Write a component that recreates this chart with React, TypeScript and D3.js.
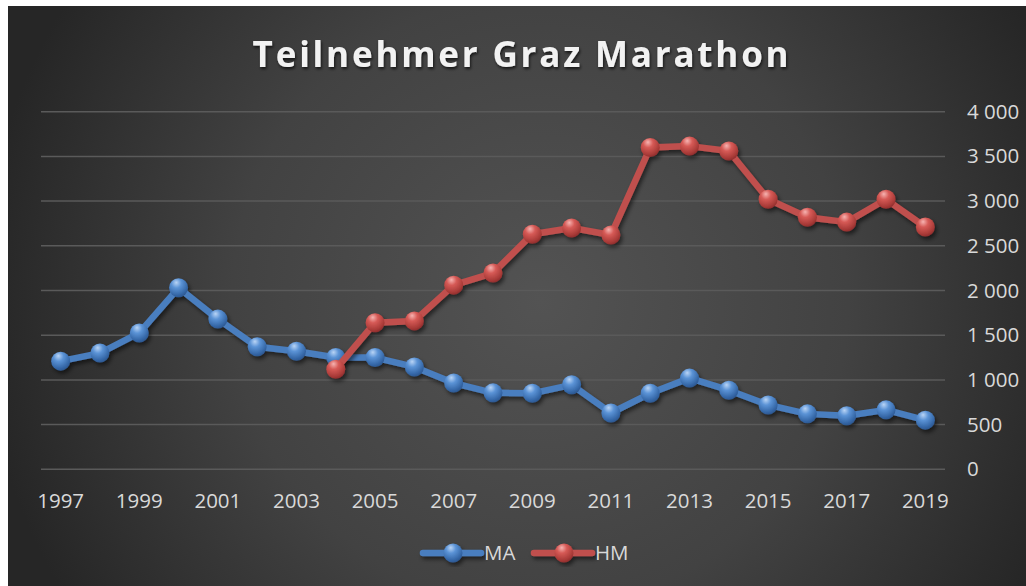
import React from "react";
import * as d3 from "d3";

const years = ["1997","1998","1999","2000","2001","2002","2003","2004","2005","2006","2007","2008","2009","2010","2011","2012","2013","2014","2015","2016","2017","2018","2019"];
const xTickLabels = ["1997","1999","2001","2003","2005","2007","2009","2011","2013","2015","2017","2019"];
const maValues: (number | null)[] = [1210,1300,1525,2030,1680,1370,1320,1250,1250,1145,965,855,850,945,630,850,1020,885,720,620,600,665,550];
const hmValues: (number | null)[] = [null,null,null,null,null,null,null,1120,1640,1660,2060,2195,2630,2700,2620,3600,3615,3560,3020,2820,2765,3020,2710];
const yTicks = [0,500,1000,1500,2000,2500,3000,3500,4000];
const seriesNames = ["MA", "HM"];

const W = 1026, H = 586;
const plotLeft = 41, plotRight = 945;
const yTop = 111.7, yBottom = 469.3;

const fmt = (v: number) => {
  const s = String(v);
  return s.length > 3 ? s.slice(0, s.length - 3) + " " + s.slice(s.length - 3) : s;
};

export default function App() {
  const x = d3.scalePoint<string>().domain(years).range([plotLeft, plotRight]).padding(0.5);
  const y = d3.scaleLinear().domain([0, 4000]).range([yBottom, yTop]);
  const line = d3.line<[string, number | null]>()
    .defined(d => d[1] !== null)
    .x(d => x(d[0]) as number)
    .y(d => y(d[1] as number));

  const series = [
    { name: seriesNames[0], values: maValues, color: "#4a7ebf", grad: "gBlue" },
    { name: seriesNames[1], values: hmValues, color: "#c0504d", grad: "gRed" },
  ];
  const font = "'Open Sans', sans-serif";
  const textColor = "#d9d9d9";
  const R = 9.5;

  const legendItems = [
    { cx: 453, tx: 484, s: series[0] },
    { cx: 564, tx: 595, s: series[1] },
  ];

  return (
    <svg width={W} height={H} style={{ position: "absolute", left: 0, top: 0 }}>
      <defs>
        <radialGradient id="bg" gradientUnits="userSpaceOnUse" cx={540} cy={300} r={560}>
          <stop offset="0" stopColor="#535353" />
          <stop offset="0.55" stopColor="#424242" />
          <stop offset="1" stopColor="#262626" />
        </radialGradient>
        <radialGradient id="gBlue" cx="0.4" cy="0.3" r="0.75" fx="0.38" fy="0.22">
          <stop offset="0" stopColor="#b9d4f5" />
          <stop offset="0.35" stopColor="#5b93d6" />
          <stop offset="0.8" stopColor="#3466a6" />
          <stop offset="1" stopColor="#2a5288" />
        </radialGradient>
        <radialGradient id="gRed" cx="0.4" cy="0.3" r="0.75" fx="0.38" fy="0.22">
          <stop offset="0" stopColor="#f6b3b1" />
          <stop offset="0.35" stopColor="#d65a56" />
          <stop offset="0.8" stopColor="#a83a37" />
          <stop offset="1" stopColor="#86292a" />
        </radialGradient>
        <filter id="shadow" x="-20%" y="-20%" width="140%" height="140%">
          <feDropShadow dx="2" dy="3" stdDeviation="2" floodColor="#000" floodOpacity="0.55" />
        </filter>
        <filter id="tshadow" x="-5%" y="-20%" width="110%" height="150%">
          <feDropShadow dx="1" dy="2" stdDeviation="1.5" floodColor="#000" floodOpacity="0.7" />
        </filter>
      </defs>
      <rect x={0} y={0} width={W} height={H} fill="#ffffff" />
      <rect x={8} y={6} width={W - 8} height={H - 6} fill="url(#bg)" />

      <text x={522} y={67} textAnchor="middle" fontFamily={font} fontWeight={700} fontSize={35}
        letterSpacing={2.8} fill="#f2f2f2" filter="url(#tshadow)">Teilnehmer Graz Marathon</text>

      {yTicks.map(t => (
        <g key={t}>
          <line x1={plotLeft} x2={plotRight} y1={y(t)} y2={y(t)} stroke="#5a5a5a" strokeWidth={1.5} />
          <text x={967} y={y(t) + 7} fontFamily={font} fontSize={20.5} fill={textColor}>{fmt(t)}</text>
        </g>
      ))}

      {xTickLabels.map(l => (
        <text key={l} x={x(l) as number} y={508} textAnchor="middle" fontFamily={font} fontSize={20.5} fill={textColor}>{l}</text>
      ))}

      {series.map(s => {
        const pts = years.map((yr, i) => [yr, s.values[i]] as [string, number | null]);
        return (
          <g key={s.name} filter="url(#shadow)">
            <path d={line(pts) || ""} fill="none" stroke={s.color} strokeWidth={6.5} strokeLinejoin="round" />
            {pts.filter(p => p[1] !== null).map(p => (
              <circle key={p[0]} cx={x(p[0]) as number} cy={y(p[1] as number)} r={R} fill={`url(#${s.grad})`} />
            ))}
          </g>
        );
      })}

      {legendItems.map(li => (
        <g key={li.s.name}>
          <g filter="url(#shadow)">
            <line x1={li.cx - 30} x2={li.cx + 28} y1={553} y2={553} stroke={li.s.color} strokeWidth={6.5} strokeLinecap="round" />
            <circle cx={li.cx} cy={553} r={R} fill={`url(#${li.s.grad})`} />
          </g>
          <text x={li.tx} y={560} fontFamily={font} fontSize={20.5} fill={textColor}>{li.s.name}</text>
        </g>
      ))}
    </svg>
  );
}
